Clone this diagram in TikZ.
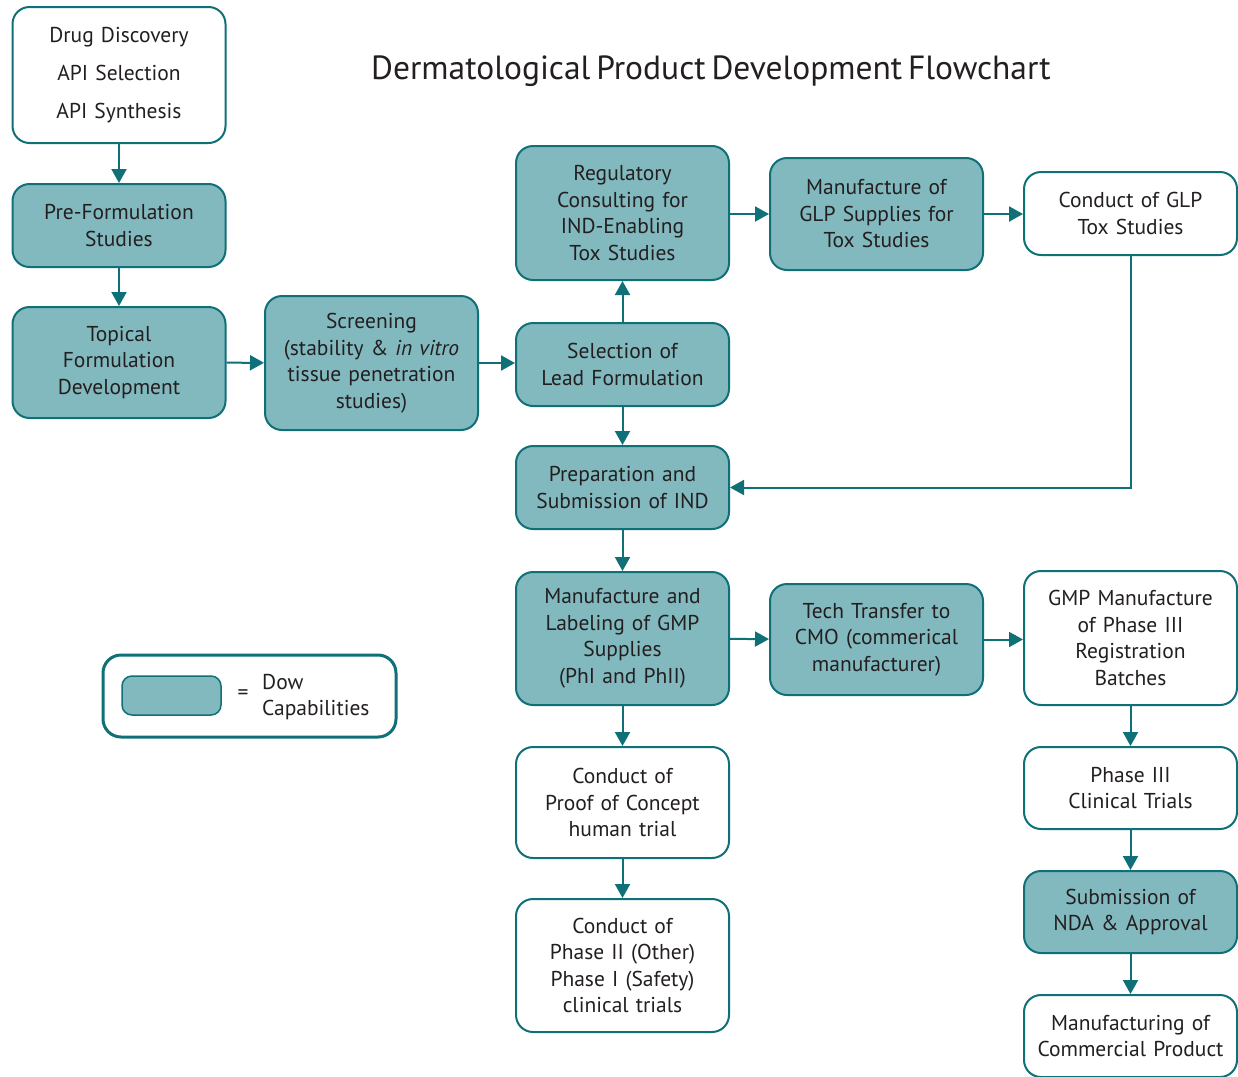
\documentclass[tikz,border=0pt]{standalone}
\usepackage{fontspec}
\setmainfont[WordSpace=0.65]{PT Sans}
\usetikzlibrary{arrows.meta}
\definecolor{teal1}{HTML}{0F7078}
\definecolor{fillc}{HTML}{82B9BF}
\definecolor{txt}{HTML}{231F20}
\begin{document}
\begin{tikzpicture}[x=1pt,y=-1pt,
  box/.style={draw=teal1,line width=2pt,rounded corners=17pt,minimum width=213pt,text width=209pt,align=center,inner sep=0pt,font=\fontsize{21.5}{26.5}\selectfont,text=txt},
  dow/.style={box,fill=fillc},
  wht/.style={box,fill=white},
  arr/.style={draw=teal1,line width=2pt,-{Triangle[length=14pt,width=15pt]}}]
\useasboundingbox (0,0) rectangle (1238,1076);
\fill[white] (0,0) rectangle (1238,1076);
\node[font=\fontsize{33.5}{38}\selectfont,text=txt] (title) at (711,71) {Dermatological Product Development Flowchart};
\node[wht,minimum height=136pt,font=\fontsize{21.5}{38}\selectfont] (dd) at (119,75) {Drug Discovery\\API Selection\\API Synthesis};
\node[dow,minimum height=83pt] (pre) at (119,225.5) {Pre-Formulation\\Studies};
\node[dow,minimum height=111pt] (top) at (119,362.5) {Topical\\Formulation\\Development};
\node[dow,minimum height=134pt] (scr) at (371.5,363) {Screening\\(stability \&~\textit{in vitro}\\tissue penetration\\studies)};
\node[dow,minimum height=134pt] (reg) at (622.5,213) {Regulatory\\Consulting for\\IND-Enabling\\Tox Studies};
\node[dow,minimum height=83pt] (sel) at (622.5,364.5) {Selection of\\Lead Formulation};
\node[dow,minimum height=112pt] (glp) at (876.5,214) {Manufacture of\\GLP Supplies for\\Tox Studies};
\node[wht,minimum height=83pt] (cglp) at (1130.5,213.5) {Conduct of GLP\\Tox Studies};
\node[dow,minimum height=83pt] (ind) at (622.5,487.5) {Preparation and\\Submission of IND};
\node[dow,minimum height=133pt] (gmp) at (622.5,638.5) {Manufacture and\\Labeling of GMP\\Supplies\\(PhI and PhII)};
\node[dow,minimum height=111pt] (tt) at (876.5,639.5) {Tech Transfer to\\CMO (commerical\\manufacturer)};
\node[wht,minimum height=134pt] (gmp3) at (1130.5,638) {GMP Manufacture\\of Phase III\\Registration\\Batches};
\node[wht,minimum height=111pt] (poc) at (622.5,802.5) {Conduct of\\Proof of Concept\\human trial};
\node[wht,minimum height=133pt] (ph2) at (622.5,965.5) {Conduct of\\Phase II (Other)\\Phase I (Safety)\\clinical trials};
\node[wht,minimum height=82pt] (ph3) at (1130.5,788) {Phase III\\Clinical Trials};
\node[dow,minimum height=82pt] (nda) at (1130.5,912) {Submission of\\NDA \& Approval};
\node[wht,minimum height=82pt] (mcp) at (1130.5,1036) {Manufacturing of\\Commercial Product};
% legend
\node[draw=teal1,line width=3pt,rounded corners=18pt,minimum width=293pt,minimum height=82pt,inner sep=0pt] (leg) at (249.5,696) {};
\node[draw=teal1,line width=1.5pt,fill=fillc,rounded corners=10pt,minimum width=99pt,minimum height=39pt,inner sep=0pt] (sw) at (171.5,695.5) {};
\node[font=\fontsize{21.5}{26.5}\selectfont,text=txt] (eq) at (243,695) {=};
\node[font=\fontsize{21.5}{26.5}\selectfont,text=txt,align=left,anchor=west,inner sep=0pt] (dowt) at (262,697) {Dow\\Capabilities};
% arrows
\draw[arr] (dd) -- (pre);
\draw[arr] (pre) -- (top);
\draw[arr] (top) -- (scr);
\draw[arr] (scr) -- (scr.east -| sel.west);
\draw[arr] (sel) -- (reg);
\draw[arr] (reg.east |- glp) -- (glp);
\draw[arr] (glp) -- (cglp.west |- glp);
\draw[arr] (sel) -- (ind);
\draw[arr] (cglp) |- (ind);
\draw[arr] (ind) -- (gmp);
\draw[arr] (gmp) -- (tt);
\draw[arr] (tt) -- (gmp3.west |- tt);
\draw[arr] (gmp) -- (poc);
\draw[arr] (poc) -- (ph2);
\draw[arr] (gmp3) -- (ph3);
\draw[arr] (ph3) -- (nda);
\draw[arr] (nda) -- (mcp);
\end{tikzpicture}
\end{document}
